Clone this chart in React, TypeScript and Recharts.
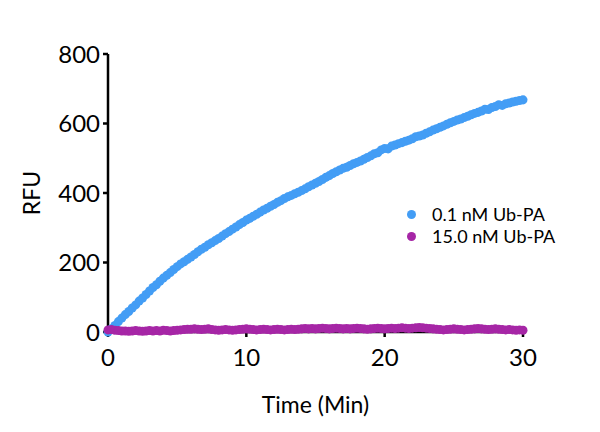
import React from "react";
import {
  ScatterChart,
  Scatter,
  XAxis,
  YAxis,
  ZAxis,
} from "recharts";

// time points every 0.25 min, 0..30
const times = Array.from({ length: 121 }, (_, i) => i * 0.25);

const lowDose = [
  0, 9, 19, 30, 40, 50, 59, 69, 78, 89, 98, 108, 118, 128, 136, 146, 155, 163,
  171, 180, 188, 196, 202, 209, 216, 223, 231, 238, 244, 251, 257, 263, 269,
  276, 283, 289, 296, 302, 309, 315, 322, 327, 333, 339, 345, 351, 356, 362,
  367, 373, 378, 384, 389, 393, 398, 402, 407, 412, 418, 423, 428, 433, 439,
  445, 450, 456, 461, 466, 471, 474, 479, 484, 488, 492, 497, 502, 507, 513,
  516, 524, 528, 527, 535, 538, 542, 545, 549, 552, 556, 562, 564, 567, 572,
  576, 581, 585, 589, 593, 598, 602, 606, 610, 613, 617, 621, 625, 629, 632,
  636, 641, 640, 646, 649, 654, 652, 657, 659, 662, 664, 666, 668,
];

const highDose = [
  6, 7, 5, 4, 3, 3, 2, 3, 4, 3, 2, 3, 4, 3, 4, 3, 5, 4, 3, 4, 5, 6, 7, 8, 8,
  9, 8, 7, 8, 9, 7, 6, 5, 6, 7, 6, 5, 6, 7, 8, 9, 8, 7, 6, 7, 8, 7, 6, 7, 8,
  7, 6, 7, 8, 7, 8, 9, 10, 9, 10, 9, 10, 11, 10, 9, 10, 11, 10, 9, 10, 9, 10,
  11, 10, 9, 8, 9, 10, 11, 10, 9, 10, 11, 10, 11, 12, 11, 10, 11, 12, 13, 12,
  11, 10, 9, 8, 7, 6, 7, 8, 9, 8, 7, 6, 7, 8, 9, 10, 9, 8, 7, 8, 9, 8, 7, 6,
  7, 6, 5, 6, 5,
];

const xTicks = [0, 10, 20, 30];
const yTicks = [0, 200, 400, 600, 800];

const seriesNames = ["0.1 nM Ub-PA", "15.0 nM Ub-PA"];
const COLORS = ["#439df5", "#a626a6"];

const lowData = times.map((t, i) => ({ x: t, y: lowDose[i] }));
const highData = times.map((t, i) => ({ x: t, y: highDose[i] }));

const FONT = "Lato, 'Open Sans', sans-serif";

const ChartLegend = () => (
  <ul
    style={{
      position: "absolute",
      left: 407,
      top: 203,
      listStyle: "none",
      margin: 0,
      padding: 0,
    }}
  >
    {seriesNames.map((name, index) => (
      <li
        key={`item-${index}`}
        style={{
          display: "flex",
          alignItems: "center",
          height: 22,
          fontSize: 18,
          lineHeight: "22px",
          fontFamily: FONT,
          color: "#000",
          whiteSpace: "nowrap",
        }}
      >
        <span
          style={{
            display: "inline-block",
            width: 9,
            height: 9,
            borderRadius: "50%",
            background: COLORS[index],
            marginRight: 16,
          }}
        />
        {name}
      </li>
    ))}
  </ul>
);

const App = () => {
  return (
    <div style={{ position: "absolute", left: 0, top: 0, width: 600, height: 432, background: "#fff" }}>
      <ScatterChart
        width={600}
        height={432}
        margin={{ top: 54, right: 77, bottom: 10, left: 8 }}
      >
        <XAxis
          type="number"
          dataKey="x"
          domain={[0, 30]}
          ticks={xTicks}
          stroke="#000"
          strokeWidth={2.5}
          tickSize={5}
          tickMargin={12}
          height={90}
          tick={{ fill: "#000", fontSize: 24, fontFamily: FONT }}
          label={{
            value: "Time (Min)",
            position: "insideBottom",
            offset: 9,
            fill: "#000",
            fontSize: 23,
            fontFamily: FONT,
          }}
        />
        <YAxis
          type="number"
          dataKey="y"
          domain={[0, 800]}
          ticks={yTicks}
          stroke="#000"
          strokeWidth={2.5}
          tickSize={5}
          tickMargin={3}
          width={100}
          tick={{ fill: "#000", fontSize: 24, fontFamily: FONT }}
          label={{
            content: ({ viewBox }: any) => {
              const cx = viewBox.x + 23;
              const cy = viewBox.y + viewBox.height / 2;
              return (
                <text
                  x={cx}
                  y={cy}
                  transform={`rotate(-90, ${cx}, ${cy})`}
                  textAnchor="middle"
                  dominantBaseline="central"
                  fill="#000"
                  fontSize={23}
                  fontFamily={FONT}
                >
                  RFU
                </text>
              );
            },
          }}
        />
        {/* dot area ~80 -> radius ~5px, dense enough to read as a band */}
        <ZAxis range={[80, 80]} />
        <Scatter
          name={seriesNames[0]}
          data={lowData}
          fill={COLORS[0]}
          isAnimationActive={false}
        />
        <Scatter
          name={seriesNames[1]}
          data={highData}
          fill={COLORS[1]}
          isAnimationActive={false}
        />
      </ScatterChart>
      <ChartLegend />
    </div>
  );
};

export default App;
